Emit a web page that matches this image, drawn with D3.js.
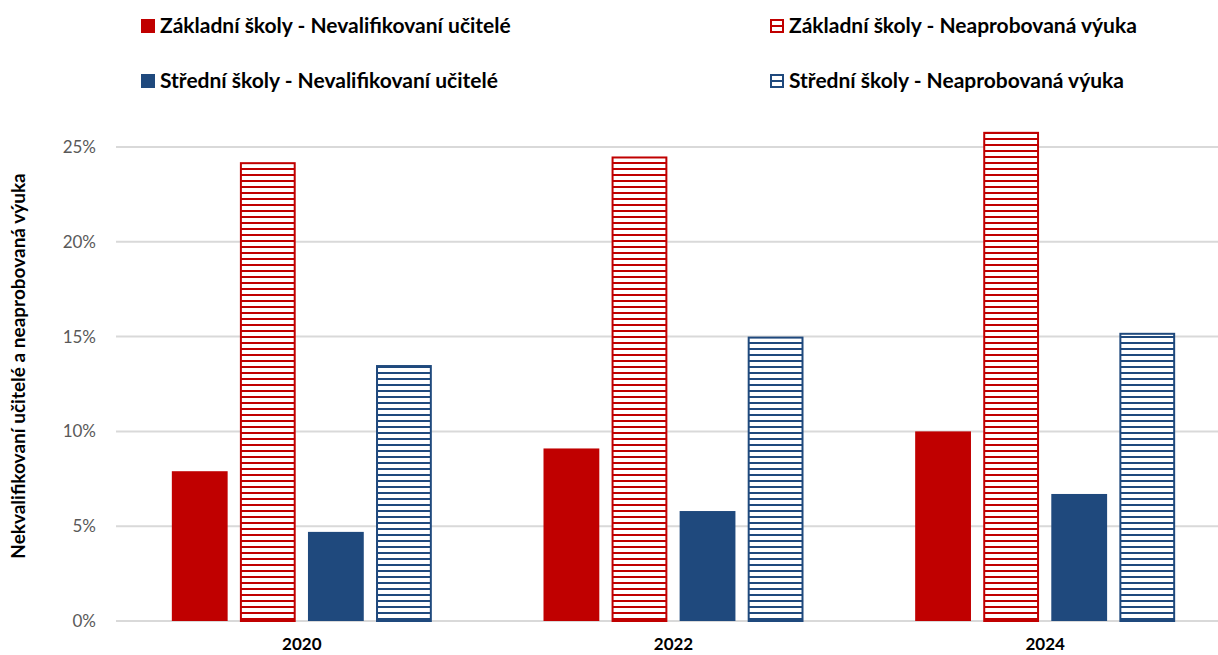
<!DOCTYPE html>
<html>
<head>
<meta charset="utf-8">
<script src="https://cdn.jsdelivr.net/npm/d3@7"></script>
<style>
  body { margin: 0; background: #fff; }
  svg { display: block; }
</style>
</head>
<body>
<svg id="chart" width="1218" height="655"></svg>
<script>
const years = ["2020", "2022", "2024"];
const seriesNames = [
  "Základní školy - Nevalifikovaní učitelé",
  "Základní školy - Neaprobovaná výuka",
  "Střední školy - Nevalifikovaní učitelé",
  "Střední školy - Neaprobovaná výuka"
];
const zsNevalif = [7.9, 9.1, 10.0];
const zsNeaprob = [24.2, 24.5, 25.8];
const ssNevalif = [4.7, 5.8, 6.7];
const ssNeaprob = [13.5, 15.0, 15.2];
const yTicks = [0, 5, 10, 15, 20, 25];
const yTitle = "Nekvalifikovaní učitelé a neaprobovaná výuka";

const seriesValues = [zsNevalif, zsNeaprob, ssNevalif, ssNeaprob];
const red = "#C00000", blue = "#1F497D";
const seriesColor = [red, red, blue, blue];
const seriesHatched = [false, true, false, true];
const font = "Lato, 'Open Sans', sans-serif";

const svg = d3.select("#chart").attr("font-family", font);
const margin = {top: 147, right: -13, bottom: 34, left: 116};
const W = +svg.attr("width"), H = +svg.attr("height");

const x = d3.scaleBand().domain(years).range([margin.left, W - margin.right]);
const xs = d3.scaleBand().domain(d3.range(4)).range([0, 260]).paddingInner(0.18);
const y = d3.scaleLinear().domain([0, 25]).range([H - margin.bottom, margin.top]);

// hatch patterns
const defs = svg.append("defs");
["red", "blue"].forEach((k, i) => {
  const c = i === 0 ? red : blue;
  const p = defs.append("pattern")
    .attr("id", "hatch-" + k)
    .attr("patternUnits", "userSpaceOnUse")
    .attr("width", 8).attr("height", 6);
  p.append("rect").attr("width", 8).attr("height", 6).attr("fill", "#fff");
  p.append("rect").attr("y", 0).attr("width", 8).attr("height", 2).attr("fill", c);
});

// grid
svg.append("g")
  .selectAll("line")
  .data(yTicks)
  .join("line")
  .attr("x1", margin.left).attr("x2", W)
  .attr("y1", d => y(d)).attr("y2", d => y(d))
  .attr("stroke", "#d9d9d9").attr("stroke-width", 2);

// y axis labels
const yAxis = svg.append("g")
  .attr("transform", `translate(${margin.left - 20},0)`)
  .call(d3.axisLeft(y).tickValues(yTicks).tickFormat(d => d + "%").tickSize(0).tickPadding(0));
yAxis.select(".domain").remove();
yAxis.selectAll("text")
  .attr("font-family", font)
  .attr("font-size", 17).attr("fill", "#595959");

// x axis labels
const xAxis = svg.append("g")
  .attr("transform", `translate(0,${H - margin.bottom})`)
  .call(d3.axisBottom(x).tickSize(0).tickPadding(17));
xAxis.select(".domain").remove();
xAxis.selectAll("text")
  .attr("font-family", font)
  .attr("font-size", 17).attr("font-weight", "bold").attr("fill", "#000");

// bars
const groups = svg.append("g").selectAll("g")
  .data(years)
  .join("g")
  .attr("transform", d => `translate(${x(d) + (x.bandwidth() - 260) / 2},0)`);

groups.selectAll("rect")
  .data((d, i) => seriesValues.map((s, k) => ({k, v: s[i]})))
  .join("rect")
  .attr("x", d => xs(d.k) + (seriesHatched[d.k] ? 1 : 0))
  .attr("width", d => xs.bandwidth() - (seriesHatched[d.k] ? 2 : 0))
  .attr("y", d => y(d.v) + (seriesHatched[d.k] ? 1 : 0))
  .attr("height", d => y(0) - y(d.v) - (seriesHatched[d.k] ? 1 : 0))
  .attr("fill", d => seriesHatched[d.k] ? `url(#hatch-${d.k === 1 ? "red" : "blue"})` : seriesColor[d.k])
  .attr("stroke", d => seriesHatched[d.k] ? seriesColor[d.k] : "none")
  .attr("stroke-width", 2);

// y title
svg.append("text")
  .attr("transform", `translate(25,${(y(0) + y(25)) / 2 - 18}) rotate(-90)`)
  .attr("text-anchor", "middle")
  .attr("font-size", 19).attr("font-weight", "bold")
  .text(yTitle);

// legend
const legendPos = [[141, 19], [770, 19], [141, 74], [770, 74]];
const leg = svg.append("g").selectAll("g")
  .data(seriesNames)
  .join("g")
  .attr("transform", (d, i) => `translate(${legendPos[i][0]},${legendPos[i][1]})`);
leg.append("rect")
  .attr("x", (d, i) => seriesHatched[i] ? 1 : 0)
  .attr("y", (d, i) => seriesHatched[i] ? 1 : 0)
  .attr("width", (d, i) => seriesHatched[i] ? 12 : 14)
  .attr("height", (d, i) => seriesHatched[i] ? 12 : 14)
  .attr("fill", (d, i) => seriesHatched[i] ? "#fff" : seriesColor[i])
  .attr("stroke", (d, i) => seriesHatched[i] ? seriesColor[i] : "none")
  .attr("stroke-width", 2);
leg.filter((d, i) => seriesHatched[i]).append("rect")
  .attr("x", 2).attr("y", 6).attr("width", 10).attr("height", 2)
  .attr("fill", (d, i) => seriesColor[i * 2 + 1]);
leg.append("text")
  .attr("x", 19).attr("y", 14)
  .attr("font-size", 21).attr("font-weight", "bold").attr("fill", "#000")
  .text(d => d);
</script>
</body>
</html>
